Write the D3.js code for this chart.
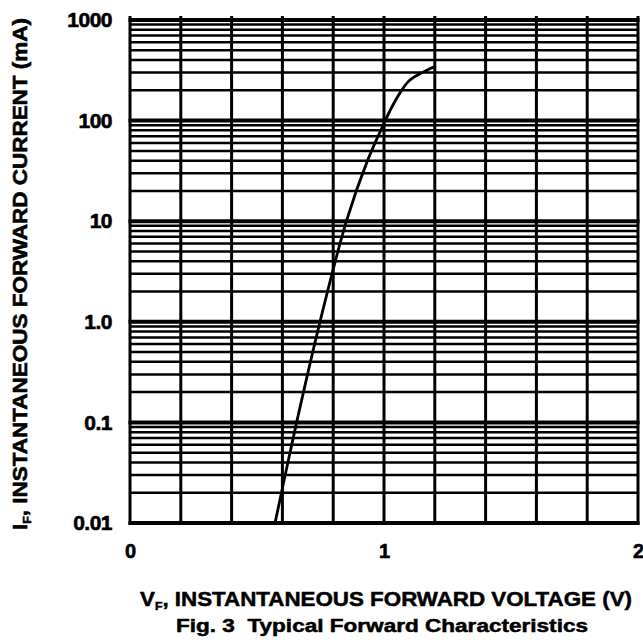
<!DOCTYPE html>
<html><head><meta charset="utf-8">
<script src="https://cdn.jsdelivr.net/npm/d3@7"></script>
<style>body{margin:0;background:#fff}svg{display:block}</style>
</head><body>
<svg id="chart" width="643" height="640"></svg>
<script>
// ---- data ----
const voltageV  = [0.571, 0.656, 0.748, 0.852, 0.935, 1.005, 1.030, 1.065, 1.100, 1.150, 1.200];
const currentMA = [0.01,  0.1,   1,     10,    40,    100,   135,   192,   250,   300,   345];
const yTickValues = [0.01, 0.1, 1, 10, 100, 1000];
const yTickLabels = ["0.01", "0.1", "1.0", "10", "100", "1000"];
const xTickValues = [0, 1, 2];
const xTickLabels = ["0", "1", "2"];
const xGridValues = [0, 0.2, 0.4, 0.6, 0.8, 1.0, 1.2, 1.4, 1.6, 1.8, 2.0];
const xTitleMain = "V";
const xTitleSub = "F";
const xTitleRest = ", INSTANTANEOUS FORWARD VOLTAGE (V)";
const yTitleMain = "I";
const yTitleSub = "F";
const yTitleRest = ", INSTANTANEOUS FORWARD CURRENT (mA)";
const caption = "Fig. 3  Typical Forward Characteristics";

// ---- layout ----
const svg = d3.select("#chart");
const FONT = "'Liberation Sans', Arial, Helvetica, sans-serif";
const pL = 130, pR = 638, pT = 20, pB = 523;
const x = d3.scaleLinear().domain([0, 2]).range([pL, pR]);
const y = d3.scaleLog().domain([0.01, 1000]).range([pB, pT]);

const grid = svg.append("g");
const allY = y.ticks();
const isDecade = v => Math.abs(Math.log10(v) - Math.round(Math.log10(v))) < 1e-9;
grid.selectAll("line.h").data(allY.filter(v => !isDecade(v))).join("line")
  .attr("x1", pL).attr("x2", pR)
  .attr("y1", d => y(d)).attr("y2", d => y(d))
  .attr("stroke", "#000").attr("stroke-width", 2.5);
grid.selectAll("line.d").data(allY.filter(isDecade)).join("line")
  .attr("x1", pL - 1.5).attr("x2", pR + 1.5)
  .attr("y1", d => y(d)).attr("y2", d => y(d))
  .attr("stroke", "#000").attr("stroke-width", 4);
grid.selectAll("line.v").data(xGridValues).join("line")
  .attr("x1", d => x(d)).attr("x2", d => x(d))
  .attr("y1", pT - 4).attr("y2", pB + 2)
  .attr("stroke", "#000").attr("stroke-width", 3);

// curve
const pts = voltageV.map((v, i) => [v, currentMA[i]]);
svg.append("path").datum(pts)
  .attr("fill", "none").attr("stroke", "#000").attr("stroke-width", 2.8)
  .attr("stroke-linecap", "round")
  .attr("d", d3.line().x(d => x(d[0])).y(d => y(d[1])).curve(d3.curveCatmullRom.alpha(0.5)));

// axes
const yAxis = d3.axisLeft(y).tickValues(yTickValues)
  .tickFormat((d, i) => yTickLabels[i]).tickSize(0).tickPadding(18);
const ga = svg.append("g").attr("transform", `translate(${pL},0)`).call(yAxis);
ga.select(".domain").remove();
ga.selectAll("text").attr("font-family", FONT).attr("font-weight", "bold")
  .attr("font-size", 21).attr("letter-spacing", -0.5).attr("fill", "#000")
  .attr("stroke", "#000").attr("stroke-width", 0.6);

const xAxis = d3.axisBottom(x).tickValues(xTickValues)
  .tickFormat((d, i) => xTickLabels[i]).tickSize(0).tickPadding(21);
const gx = svg.append("g").attr("transform", `translate(0,${pB})`).call(xAxis);
gx.select(".domain").remove();
gx.selectAll("text").attr("font-family", FONT).attr("font-weight", "bold")
  .attr("font-size", 20).attr("fill", "#000")
  .attr("stroke", "#000").attr("stroke-width", 0.6);

// x title
const xt = svg.append("text").attr("x", 386).attr("y", 606)
  .attr("text-anchor", "middle").attr("font-family", FONT).attr("font-weight", "bold")
  .attr("font-size", 20).attr("fill", "#000")
  .attr("stroke", "#000").attr("stroke-width", 0.5)
  .attr("textLength", 492).attr("lengthAdjust", "spacingAndGlyphs");
xt.append("tspan").text(xTitleMain);
xt.append("tspan").attr("font-size", 11).attr("dy", 4).text(xTitleSub);
xt.append("tspan").attr("dy", -4).text(xTitleRest);

// caption
svg.append("text").attr("x", 382).attr("y", 632)
  .attr("text-anchor", "middle").attr("font-family", FONT).attr("font-weight", "bold")
  .attr("font-size", 18).attr("fill", "#000")
  .attr("stroke", "#000").attr("stroke-width", 0.5)
  .style("white-space", "pre")
  .attr("textLength", 412).attr("lengthAdjust", "spacingAndGlyphs")
  .text(caption);

// y title
const yt = svg.append("text").attr("transform", "translate(27,274) rotate(-90)")
  .attr("text-anchor", "middle").attr("font-family", FONT).attr("font-weight", "bold")
  .attr("font-size", 20).attr("fill", "#000")
  .attr("stroke", "#000").attr("stroke-width", 0.6)
  .attr("textLength", 512).attr("lengthAdjust", "spacingAndGlyphs");
yt.append("tspan").text(yTitleMain);
yt.append("tspan").attr("font-size", 11).attr("dy", 4).text(yTitleSub);
yt.append("tspan").attr("dy", -4).text(yTitleRest);
</script>
</body></html>
